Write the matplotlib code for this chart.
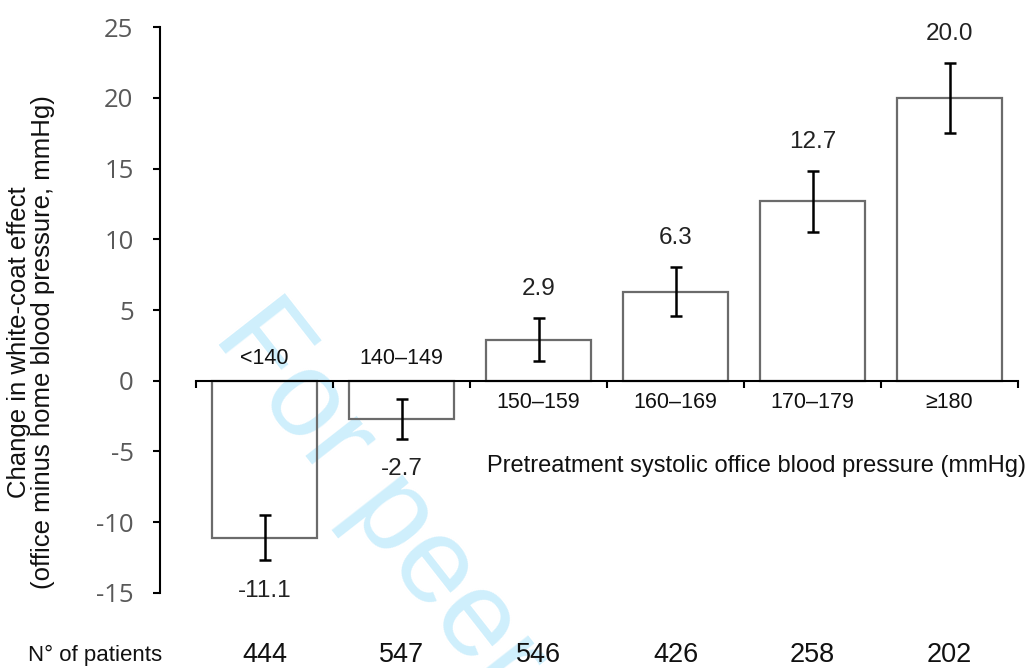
import matplotlib
matplotlib.use('Agg')
import matplotlib.pyplot as plt
import matplotlib.transforms as mtransforms

# data
categories = ['<140', '140–149', '150–159', '160–169', '170–179', '≥180']
means = [-11.1, -2.7, 2.9, 6.3, 12.7, 20.0]
errors = [1.6, 1.4, 1.5, 1.75, 2.15, 2.45]
n_patients = [444, 547, 546, 426, 258, 202]
yticks = [-15, -10, -5, 0, 5, 10, 15, 20, 25]

plt.rcParams['font.family'] = ['Liberation Sans', 'DejaVu Sans']

W, H = 1029, 668
fig = plt.figure(figsize=(W / 100, H / 100), dpi=100)

# watermark
fig.text(212 / W, 1 - 337 / H, 'For peer review', fontsize=88, color='#cfeffc',
         rotation=-52, rotation_mode='anchor', ha='left', va='baseline', zorder=-5)

ax = fig.add_axes([160 / W, 1 - 592.7 / H, (1018 - 160) / W, (592.7 - 27.3) / H])
ax.patch.set_alpha(0)

x = list(range(len(categories)))
ax.bar(x, means, width=0.76, facecolor='none', edgecolor='#6b6b6b', linewidth=1.6, zorder=2)
ax.errorbar(x, means, yerr=errors, fmt='none', ecolor='black', elinewidth=1.8,
            capsize=4.5, capthick=1.8, zorder=3)

ax.set_xlim(-0.5 - 36 / 137, 5.5)
ax.set_ylim(-15, 25)

# axes styling
ax.spines['top'].set_visible(False)
ax.spines['right'].set_visible(False)
ax.spines['bottom'].set_position(('data', 0))
ax.spines['bottom'].set_bounds(-0.5, 5.5)
ax.spines['bottom'].set_linewidth(1.5)
ax.spines['left'].set_bounds(-15, 25)
ax.spines['left'].set_linewidth(1.5)

ax.set_xticks([i - 0.5 for i in range(len(categories) + 1)])
ax.set_xticklabels([])
ax.tick_params(axis='x', direction='out', length=5, width=1.5, color='black')

ax.set_yticks(yticks)
ax.set_yticklabels([str(t) for t in yticks], fontfamily='Open Sans', fontsize=18.5, color='#595959')
ax.tick_params(axis='y', direction='out', length=5, width=1.5, color='black', pad=14)

# labels on bars
for i, (m, e, c) in enumerate(zip(means, errors, categories)):
    if m >= 0:
        ax.annotate(f'{m:.1f}', (i, m + e), xytext=(0, 21), textcoords='offset points',
                    ha='center', va='center', fontsize=17.5, color='#222222')
        ax.annotate(c, (i, 0), xytext=(0, -16), textcoords='offset points',
                    ha='center', va='center', fontsize=15.5, color='#111111')
    else:
        ax.annotate(f'{m:.1f}', (i, m - e), xytext=(0, -22), textcoords='offset points',
                    ha='center', va='center', fontsize=17.5, color='#222222')
        ax.annotate(c, (i, 0), xytext=(0, 16), textcoords='offset points',
                    ha='center', va='center', fontsize=15.5, color='#111111')

# number of patients row
trans = mtransforms.blended_transform_factory(ax.transData, fig.transFigure)
for i, n in enumerate(n_patients):
    ax.text(i, 1 - 655 / H, str(n), transform=trans, ha='center', va='center',
            fontsize=19.5, color='#111111', clip_on=False)
fig.text(28 / W, 1 - 655 / H, 'N° of patients', ha='left', va='center', fontsize=16, color='#111111')

# axis titles
fig.text(1026 / W, 1 - 466 / H, 'Pretreatment systolic office blood pressure (mmHg)',
         ha='right', va='center', fontsize=17, color='#111111')
fig.text(31 / W, 1 - 342 / H, 'Change in white-coat effect\n(office minus home blood pressure, mmHg)',
         rotation=90, ha='center', va='center', fontsize=18.5, linespacing=0.95, color='#111111')

plt.savefig('out.png', dpi=100)
